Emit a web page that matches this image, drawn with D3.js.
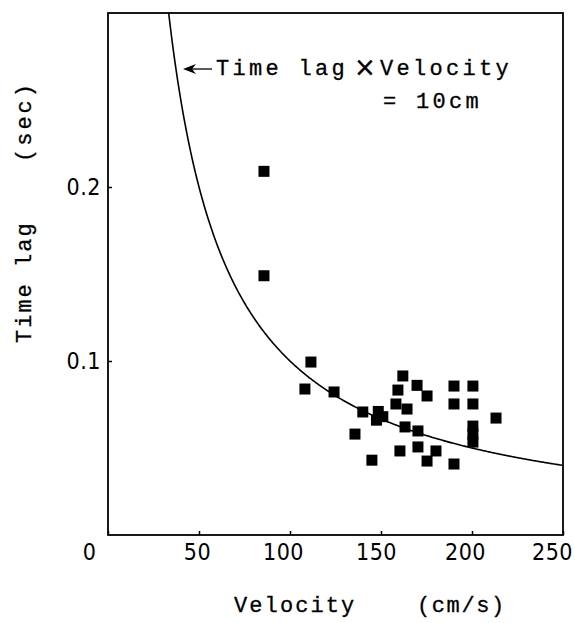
<!DOCTYPE html>
<html>
<head>
<meta charset="utf-8">
<script src="https://cdn.jsdelivr.net/npm/d3@7"></script>
<style>
  body { margin: 0; background: #fff; }
  svg { display: block; }
  .tick text { font-family: "Liberation Sans Narrow", "DejaVu Sans", sans-serif; font-stretch: condensed; font-size: 23px; letter-spacing: 0.5px; fill: #000; }
  .lbl { font-family: "Liberation Mono", "Courier New", monospace; font-size: 22px; fill: #000; stroke: #000; stroke-width: 0.3px; }
</style>
</head>
<body>
<div id="chart"></div>
<script>
var velocity = [85.7, 85.7, 111.5, 108.2, 124.2, 140, 148.5, 151, 147.5, 135.7, 145,
  162, 159.3, 169.8, 175.3, 158.2, 164.3, 163.2, 170.3, 160.4, 170.3, 180.2, 175.3,
  190.1, 200.5, 190.1, 200.5, 200.5, 200.5, 200.5, 213.2, 190.1];
var timeLag = [0.209, 0.149, 0.0994, 0.0839, 0.0822, 0.0707, 0.071, 0.068, 0.066, 0.058, 0.043,
  0.0914, 0.0833, 0.086, 0.0799, 0.0753, 0.0724, 0.0621, 0.0598, 0.0483, 0.0506, 0.0483, 0.0425,
  0.0856, 0.0856, 0.0753, 0.0753, 0.0626, 0.058, 0.0534, 0.0672, 0.0408];
var xTicks = [0, 50, 100, 150, 200, 250];
var yTicks = [0.1, 0.2];
var product = 10; // time lag x velocity = 10 cm

var w = 575,
  h = 623,
  padL = 108, padR = 563, padT = 13, padB = 535,
  size = 11;

var svg = d3.select("#chart").append("svg")
  .attr("width", w)
  .attr("height", h);

var x = d3.scaleLinear().domain([0, 250]).range([padL, padR]);
var y = d3.scaleLinear().domain([0, 0.3]).range([padB, padT]);

// axes, ticks point inward
var xAxis = svg.append("g")
  .attr("transform", "translate(0," + padB + ")")
  .call(d3.axisBottom(x).tickValues(xTicks).tickSizeInner(-4).tickSizeOuter(0).tickPadding(18)
    .tickFormat(d3.format("d")));
xAxis.select(".domain").remove();
xAxis.selectAll(".tick line").attr("stroke", "#000").attr("stroke-width", 1.5);
// labels in the scan drift a little left of their ticks
var labelShift = { 0: -19, 50: -2, 100: -7, 150: -5, 200: -7, 250: -11 };
xAxis.selectAll(".tick text")
  .attr("dy", "0.3em")
  .attr("dx", function (d) { return labelShift[d]; });

var yAxis = svg.append("g")
  .attr("transform", "translate(" + padL + ",0)")
  .call(d3.axisLeft(y).tickValues(yTicks).tickSizeInner(-4).tickSizeOuter(0).tickPadding(7)
    .tickFormat(d3.format(".1f")));
yAxis.select(".domain").remove();
yAxis.selectAll(".tick line").attr("stroke", "#000").attr("stroke-width", 1.5);

// frame
svg.append("rect")
  .attr("x", padL).attr("y", padT)
  .attr("width", padR - padL).attr("height", padB - padT)
  .attr("fill", "none")
  .attr("stroke", "#000")
  .attr("stroke-width", 1.8);

// curve: time lag = 10 / velocity
var vStart = product / 0.3;
var curve = d3.range(vStart, 250.01, 0.5).map(function (v) { return [v, product / v]; });
svg.append("path")
  .datum(curve)
  .attr("fill", "none")
  .attr("stroke", "#000")
  .attr("stroke-width", 1.6)
  .attr("d", d3.line().x(function (d) { return x(d[0]); }).y(function (d) { return y(d[1]); }));

// points
svg.selectAll("rect.pt")
  .data(velocity)
  .enter()
  .append("rect")
  .attr("class", "pt")
  .attr("x", function (d) { return x(d) - size / 2; })
  .attr("y", function (d, i) { return y(timeLag[i]) - size / 2; })
  .attr("width", size)
  .attr("height", size)
  .attr("fill", "#000");

// annotation
var ay = 69;
svg.append("line")
  .attr("x1", 188).attr("y1", ay).attr("x2", 212).attr("y2", ay)
  .attr("stroke", "#000").attr("stroke-width", 1.3);
svg.append("path")
  .attr("d", "M183," + ay + " L196," + (ay - 5) + " L192," + ay + " L196," + (ay + 5) + " Z")
  .attr("fill", "#000");

var note = svg.append("text").attr("class", "lbl").attr("y", ay + 6).style("letter-spacing", "3.3px");
note.append("tspan").attr("x", 216).text("Time lag");
note.append("tspan").attr("x", 354).attr("font-family", "DejaVu Sans").attr("font-size", 26).attr("dy", 1).style("letter-spacing", "0").text("\u00d7");
note.append("tspan").attr("x", 380).attr("dy", -1).text("Velocity");

svg.append("text").attr("class", "lbl").attr("x", 383).attr("y", 108)
  .style("letter-spacing", "3.3px")
  .text("= 10cm");

// axis titles
svg.append("text").attr("class", "lbl").attr("x", 234).attr("y", 612).style("letter-spacing", "2.1px").text("Velocity");
svg.append("text").attr("class", "lbl").attr("x", 417).attr("y", 612).style("letter-spacing", "1.6px").text("(cm/s)");

svg.append("text").attr("class", "lbl")
  .attr("transform", "translate(31,343) rotate(-90)")
  .style("letter-spacing", "2px").text("Time lag");
svg.append("text").attr("class", "lbl")
  .attr("transform", "translate(31,162) rotate(-90)")
  .style("letter-spacing", "3px").text("(sec)");
</script>
</body>
</html>
